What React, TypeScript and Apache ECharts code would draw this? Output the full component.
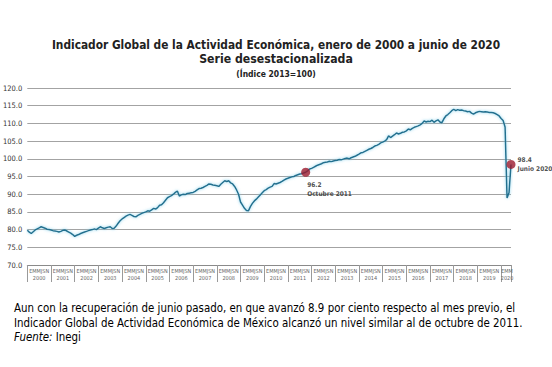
import React, { useEffect, useRef } from 'react';
import * as echarts from 'echarts';

// Monthly values (Índice 2013=100)
const v2000 = [79.8, 79.3, 78.9, 79.4, 79.9, 80.2, 80.5, 80.8, 80.6, 80.4, 80.1, 80.0];
const v2001 = [79.9, 79.7, 79.6, 79.5, 79.3, 79.5, 79.8, 79.9, 79.6, 79.3, 79.0, 78.6];
const v2002 = [78.1, 78.4, 78.6, 78.9, 79.1, 79.3, 79.5, 79.7, 79.9, 80.0, 80.2, 80.0];
const v2003 = [80.4, 80.8, 80.5, 80.3, 80.5, 80.7, 80.8, 80.3, 80.4, 81.0, 81.8, 82.5];
const v2004 = [83.0, 83.4, 83.8, 84.1, 84.3, 84.0, 83.7, 83.6, 84.0, 84.3, 84.6, 84.8];
const v2005 = [85.0, 85.3, 85.2, 85.6, 86.0, 85.8, 86.2, 86.9, 87.0, 87.6, 88.3, 89.0];
const v2006 = [89.3, 89.6, 90.0, 90.5, 90.9, 89.5, 89.8, 90.0, 89.9, 90.2, 90.3, 90.4];
const v2007 = [90.5, 90.8, 91.2, 91.6, 91.7, 91.9, 92.2, 92.5, 92.9, 92.8, 92.6, 92.5];
const v2008 = [92.4, 92.2, 92.8, 93.3, 93.8, 93.6, 93.8, 93.2, 92.9, 92.2, 91.2, 90.0];
const v2009 = [87.8, 86.9, 86.0, 85.4, 85.3, 86.5, 87.4, 88.1, 88.6, 89.2, 89.8, 90.4];
const v2010 = [91.0, 91.3, 91.7, 92.0, 92.2, 93.0, 92.9, 93.1, 93.3, 93.6, 94.0, 94.3];
const v2011 = [94.5, 94.7, 94.9, 95.0, 95.3, 95.5, 95.7, 95.8, 96.0, 96.2, 96.6, 97.1];
const v2012 = [97.3, 97.6, 97.9, 98.2, 98.4, 98.6, 98.9, 99.0, 99.1, 99.3, 99.2, 99.4];
const v2013 = [99.5, 99.6, 99.8, 99.7, 99.9, 100.1, 100.2, 100.0, 100.3, 100.5, 100.7, 101.0];
const v2014 = [101.3, 101.7, 101.8, 102.1, 102.4, 102.7, 102.9, 103.2, 103.6, 103.8, 104.1, 104.5];
const v2015 = [104.7, 105.0, 105.4, 106.5, 106.0, 106.4, 106.8, 107.3, 107.0, 107.2, 107.5, 107.6];
const v2016 = [107.9, 108.4, 108.2, 108.6, 108.9, 109.1, 109.3, 109.6, 110.0, 110.7, 110.4, 110.6];
const v2017 = [110.5, 110.9, 110.3, 110.7, 111.0, 110.4, 110.2, 111.3, 112.1, 112.5, 113.0, 113.6];
const v2018 = [114.0, 113.6, 113.9, 113.7, 113.8, 113.6, 113.5, 113.3, 113.4, 112.9, 112.6, 113.0];
const v2019 = [113.2, 113.4, 113.3, 113.2, 113.3, 113.2, 113.1, 113.1, 113.0, 112.8, 112.5, 112.1];
const v2020 = [111.4, 110.8, 109.0, 88.9, 90.4, 98.4];

const yearValues = [v2000, v2001, v2002, v2003, v2004, v2005, v2006, v2007, v2008, v2009, v2010,
  v2011, v2012, v2013, v2014, v2015, v2016, v2017, v2018, v2019, v2020];
const yearLabels = ['2000', '2001', '2002', '2003', '2004', '2005', '2006', '2007', '2008', '2009', '2010',
  '2011', '2012', '2013', '2014', '2015', '2016', '2017', '2018', '2019', '2020'];
// Letters of every other month: Ene, Mar, May, Jul, Sep, Nov
const monthLetters = ['E', 'M', 'M', 'J', 'S', 'N'];

const highlightMonths = ['2011-10', '2020-06'];
const highlightLabels = ['Octubre 2011', 'Junio 2020'];

const titleText = 'Indicador Global de la Actividad Económica, enero de 2000 a junio de 2020';
const subtitleText = 'Serie desestacionalizada';
const unitText = '(Índice 2013=100)';
const noteLine1 = 'Aun con la recuperación de junio pasado, en que avanzó 8.9 por ciento respecto al mes previo, el';
const noteLine2 = 'Indicador Global de Actividad Económica de México alcanzó un nivel similar al de octubre de 2011.';
const sourceLabel = 'Fuente:';
const sourceName = 'Inegi';

const FONT = '"DejaVu Sans Condensed", "Liberation Sans Narrow", "Roboto", sans-serif';

export default function App() {
  const ref = useRef<HTMLDivElement>(null);

  useEffect(() => {
    if (!ref.current) return;
    const chart = echarts.init(ref.current, undefined, { renderer: 'svg' });

    const months: string[] = [];
    const values: number[] = [];
    yearValues.forEach((arr, yi) => {
      arr.forEach((v, mi) => {
        months.push(`${yearLabels[yi]}-${String(mi + 1).padStart(2, '0')}`);
        values.push(v);
      });
    });
    const lastIdx = months.length - 1;

    const labelAt: Record<number, string> = {};
    yearValues.forEach((arr, yi) => {
      const start = yi * 12;
      const mid = arr.length === 12 ? start + 6 : start + Math.round(arr.length / 2);
      const letters = monthLetters.slice(0, Math.ceil(arr.length / 2)).join('');
      labelAt[mid] = `{m|${letters}}\n{y|${yearLabels[yi]}}`;
    });

    const points = highlightMonths.map((m, k) => {
      const idx = months.indexOf(m);
      const val = values[idx];
      return {
        value: [m, val],
        label: k === 0
          ? {
              show: true,
              position: [6, 13],
              align: 'left',
              verticalAlign: 'top',
              formatter: `{v|${val.toFixed(1)}}\n{v|${highlightLabels[k]}}`,
            }
          : {
              show: true,
              position: 'right',
              distance: 2,
              formatter: `{v|${val.toFixed(1)}}\n{v|${highlightLabels[k]}}`,
            },
      };
    });

    chart.setOption({
      animation: false,
      backgroundColor: '#ffffff',
      textStyle: { fontFamily: FONT },
      title: [
        {
          text: titleText,
          left: 'center',
          top: 39,
          padding: 0,
          textStyle: { fontFamily: FONT, fontSize: 11.8, fontWeight: 'bold', color: '#222' },
        },
        {
          text: subtitleText,
          left: 'center',
          top: 53,
          padding: 0,
          textStyle: { fontFamily: FONT, fontSize: 12.2, fontWeight: 'bold', color: '#222' },
        },
        {
          text: unitText,
          left: 'center',
          top: 69,
          padding: 0,
          textStyle: { fontFamily: FONT, fontSize: 8.5, fontWeight: 'bold', color: '#222' },
        },
        {
          text: `{n|${noteLine1}}\n{n|${noteLine2}}\n{i|${sourceLabel}}{n| ${sourceName}}`,
          left: 14,
          top: 301,
          padding: 0,
          textStyle: {
            fontFamily: FONT,
            fontWeight: 'normal',
            rich: {
              n: { fontFamily: FONT, fontSize: 11.4, fontWeight: 'normal', color: '#000', lineHeight: 14.5 },
              i: { fontFamily: FONT, fontSize: 11.4, fontWeight: 'normal', color: '#000', lineHeight: 14.5, fontStyle: 'italic' },
            },
          },
        },
      ],
      grid: { left: 27, right: 41, top: 88, bottom: 102, containLabel: false },
      xAxis: {
        type: 'category',
        data: months,
        boundaryGap: false,
        axisLine: { show: true, lineStyle: { color: '#8a8a8a', width: 1 } },
        axisTick: {
          show: true,
          interval: (i: number) => i % 12 === 0 || i === lastIdx,
          length: 17,
          lineStyle: { color: '#9a9a9a', width: 1 },
        },
        axisLabel: {
          interval: (i: number) => labelAt[i] !== undefined,
          formatter: (_v: string, i: number) => labelAt[i] || '',
          margin: 2,
          rich: {
            m: { fontFamily: FONT, fontSize: 5.5, color: '#666', lineHeight: 7 },
            y: { fontFamily: FONT, fontSize: 5.5, color: '#666', lineHeight: 7 },
          },
        },
        splitLine: { show: false },
      },
      yAxis: {
        type: 'value',
        min: 70,
        max: 120,
        interval: 5,
        axisLine: { show: false },
        axisTick: { show: false },
        axisLabel: {
          formatter: (v: number) => v.toFixed(1),
          fontFamily: FONT,
          fontSize: 7.5,
          color: '#333',
          margin: 5,
        },
        splitLine: { lineStyle: { color: '#a3a3a3', width: 1 } },
      },
      series: [
        {
          type: 'line',
          data: values,
          symbol: 'none',
          lineStyle: {
            color: '#23708f',
            width: 1.5,
            shadowColor: 'rgba(120,205,235,0.9)',
            shadowBlur: 3,
          },
          z: 2,
        },
        {
          type: 'scatter',
          data: points,
          symbol: 'circle',
          symbolSize: 9,
          itemStyle: { color: '#9c1a2d' },
          z: 5,
          label: {
            rich: {
              v: { fontFamily: FONT, fontSize: 6.5, fontWeight: 'bold', color: '#222', lineHeight: 9 },
            },
          },
        },
      ],
    });

    return () => chart.dispose();
  }, []);

  return (
    <div
      ref={ref}
      style={{ position: 'fixed', left: 0, top: 0, width: 552, height: 367, background: '#fff' }}
    />
  );
}
